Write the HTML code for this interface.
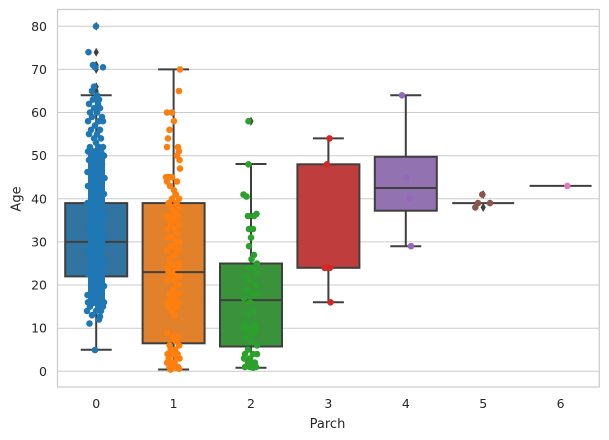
<!DOCTYPE html>
<html><head><meta charset="utf-8"><style>
html,body{margin:0;padding:0;background:#fff;}
svg{display:block;}
text{font-family:"DejaVu Sans","Liberation Sans",sans-serif;fill:#262626;}
.p{fill:none;stroke-width:6.6;stroke-linecap:round;}
</style></head><body>
<svg width="609" height="440" viewBox="0 0 609 440" xmlns="http://www.w3.org/2000/svg">
<rect width="609" height="440" fill="#fff"/>
<path stroke="#cccccc" stroke-width="1" d="M57.5 371.3H599.3M57.5 328.2H599.3M57.5 285.05H599.3M57.5 241.9H599.3M57.5 198.8H599.3M57.5 155.7H599.3M57.5 112.5H599.3M57.5 69.4H599.3M57.5 26.3H599.3"/>
<rect x="57.5" y="9.5" width="541.8" height="377.5" fill="none" stroke="#cccccc" stroke-width="1.25"/>
<g font-size="12.5" text-anchor="end">
<text x="47" y="375.8">0</text>
<text x="47" y="332.7">10</text>
<text x="47" y="289.5">20</text>
<text x="47" y="246.4">30</text>
<text x="47" y="203.3">40</text>
<text x="47" y="160.2">50</text>
<text x="47" y="117">60</text>
<text x="47" y="73.9">70</text>
<text x="47" y="30.8">80</text>
</g>
<g font-size="12.5" text-anchor="middle">
<text x="96.2" y="408">0</text>
<text x="173.6" y="408">1</text>
<text x="251" y="408">2</text>
<text x="328.4" y="408">3</text>
<text x="405.8" y="408">4</text>
<text x="483.2" y="408">5</text>
<text x="560.6" y="408">6</text>
</g>
<text x="327.5" y="428" font-size="13" text-anchor="middle">Parch</text>
<text transform="translate(20.5,199) rotate(-90)" font-size="13" text-anchor="middle">Age</text>

<g stroke="#3f3f3f" stroke-width="2">
<rect x="65.2" y="203.1" width="62" height="73.3" fill="#3274a1"/>
<rect x="142.6" y="203.1" width="62" height="140.2" fill="#e1812c"/>
<rect x="220" y="263.5" width="62" height="83" fill="#3a923a"/>
<rect x="297.4" y="164.3" width="62" height="103.5" fill="#c03d3e"/>
<rect x="374.8" y="156.8" width="62" height="53.9" fill="#9372b2"/>
<path fill="none" d="M96.2 276.4V349.7M96.2 203.1V95.3M80.7 349.7H111.7M80.7 95.3H111.7M65.2 241.9H127.2
M173.6 343.3V369.5M173.6 203.1V69.4M158.1 369.5H189.1M158.1 69.4H189.1M142.6 272.1H204.6
M251 346.5V367.7M251 263.5V164M235.5 367.7H266.5M235.5 164H266.5M220 300.1H282
M328.4 267.8V302.3M328.4 164.3V138.4M312.9 302.3H343.9M312.9 138.4H343.9
M405.8 210.7V246.2M405.8 156.8V95.3M390.3 246.2H421.3M390.3 95.3H421.3M374.8 188H436.8
M452.2 203.1H514.2M529.6 185.9H591.6"/>
</g>
<path fill="#3f3f3f" d="M96.2 21.8l2.6 4.5l-2.6 4.5l-2.6-4.5zM96.2 47.7l2.6 4.5l-2.6 4.5l-2.6-4.5zM96.2 60.6l2.6 4.5l-2.6 4.5l-2.6-4.5zM96.2 62.8l2.6 4.5l-2.6 4.5l-2.6-4.5zM96.2 64.9l2.6 4.5l-2.6 4.5l-2.6-4.5zM96.2 82.2l2.6 4.5l-2.6 4.5l-2.6-4.5zM96.2 86.5l2.6 4.5l-2.6 4.5l-2.6-4.5zM251 116.7l2.6 4.5l-2.6 4.5l-2.6-4.5zM483.2 190l2.6 4.5l-2.6 4.5l-2.6-4.5zM483.2 202.9l2.6 4.5l-2.6 4.5l-2.6-4.5z"/>

<rect x="88" y="150" width="17" height="156" rx="4" fill="#1f77b4"/>
<path class="p" stroke="#1f77b4" d="M96 26.3h0M88.5 52.2h0M93 65.1h0M95 67.3h0M103 67.3h0M94 86.7h0M92 91h0M97 95.3h0M99 99.6h0M93 99.6h0M89 103.9h0M98 103.9h0M94 108.2h0M100 108.2h0M90 112.5h0M97 112.5h0M102 116.9h0M92 116.9h0M88 121.2h0M99 121.2h0M103 121.2h0M95 125.5h0M91 129.8h0M100 129.8h0M89 134.1h0M97 134.1h0M94 138.4h0M101 138.4h0M96 142.7h0M90 147.1h0M99 147.1h0M103 147.1h0M88 151.4h0M94 151.4h0M101 151.4h0M92 155.7h0M104 155.7h0M89 160h0M102 164.3h0M87.5 172h0M104.5 178h0M88 186h0M104 194h0M87.5 203h0M104.5 214h0M88 226h0M104 238h0M87.5 250h0M104.5 262h0M88 274h0M104 286h0M87.5 295h0M88 302.3h0M95 302.3h0M101 302.3h0M104 302.3h0M90 306.6h0M99 306.6h0M103 306.6h0M87 310.9h0M96 310.9h0M101 310.9h0M92 315.2h0M100 316.5h0M99 319.5h0M89.5 323.5h0M95 350h0"/>

<path class="p" stroke="#ff7f0e" d="M180 69.4h0M179 91h0M167 112.5h0M172 112.5h0M174 121.2h0M169.5 129.8h0M168 138.4h0M167 147.1h0M178 147.1h0M179 151.4h0M177 155.7h0M179.5 160h0M180 168.6h0M166 177.2h0M169 177.2h0M172 177.2h0M167 181.5h0M177 181.5h0M170 185.9h0M174 190.2h0M176 194.5h0M172 198.8h0M179 198.8h0M168.6 203.1h0M176.6 203.1h0M179.6 207.4h0M171.6 207.4h0M174.6 211.7h0M167.1 216h0M178.1 216h0M173.1 216h0M175.6 220.4h0M169.6 220.4h0M179.1 224.7h0M170.6 224.7h0M175.1 229h0M167.6 229h0M177.6 233.3h0M172.1 237.6h0M168.6 237.6h0M176.6 241.9h0M179.6 241.9h0M171.6 246.2h0M174.6 246.2h0M167.1 250.5h0M178.1 250.5h0M173.1 254.9h0M175.6 254.9h0M169.6 259.2h0M179.1 263.5h0M170.6 263.5h0M175.1 267.8h0M167.6 267.8h0M177.6 267.8h0M172.1 272.1h0M168.6 272.1h0M176.6 276.4h0M179.6 276.4h0M171.6 276.4h0M174.6 280.7h0M167.1 280.7h0M178.1 285.1h0M173.1 289.4h0M175.6 293.7h0M169.6 293.7h0M179.1 293.7h0M170.6 298h0M175.1 298h0M167.6 302.3h0M177.6 302.3h0M172.1 302.3h0M168.6 306.6h0M176.6 306.6h0M171.6 310.9h0M174.6 315.2h0M167.1 332.5h0M178.1 336.8h0M173.1 336.8h0M175.6 341.1h0M169.6 345.4h0M179.1 345.4h0M170.6 349.7h0M175.1 349.7h0M167.6 354.1h0M177.6 354.1h0M172.1 354.1h0M168.6 358.4h0M176.6 358.4h0M179.6 358.4h0M171.6 362.7h0M174.6 362.7h0M167.1 362.7h0M178.1 367h0M173.1 367h0M169.6 367h0M175.6 367.8h0M179.1 368.7h0M170.6 369.6h0"/>

<path class="p" stroke="#2ca02c" d="M248.5 121.2h0M248.5 164.3h0M243.5 194.5h0M246.5 196.6h0M256.5 213.9h0M254 216h0M248 216h0M253 229h0M249 229h0M251 237.6h0M249 246.2h0M254 254.9h0M251.5 259.2h0M257 263.5h0M248 267.8h0M253 267.8h0M256 272.1h0M246 276.4h0M250 280.7h0M256 285.1h0M247 289.4h0M252 293.7h0M257 293.7h0M244 298h0M250 302.3h0M254 310.9h0M247 315.2h0M255 323.9h0M245 323.9h0M250 328.2h0M256 328.2h0M244 328.2h0M249 332.5h0M254 332.5h0M246 336.8h0M251 341.1h0M257 345.4h0M248 349.7h0M253 354.1h0M245 354.1h0M257 354.1h0M250 358.4h0M244 358.4h0M255 362.7h0M248 362.7h0M252 362.7h0M245 367h0M250 367h0M256 367h0M253 367.7h0"/>

<path class="p" stroke="#d62728" d="M329.5 138.4h0M327 164.3h0M324.5 267.8h0M327.5 267.8h0M330 267.8h0M330.5 302.3h0"/>
<path class="p" stroke="#9467bd" d="M402 95.3h0M406.5 177.3h0M409.5 198.8h0M411 246.2h0"/>
<path class="p" stroke="#8c564b" d="M482.3 194.5h0M478 203.1h0M490 203.1h0M475.3 207.4h0"/>
<path class="p" stroke="#e377c2" d="M567.3 185.9h0"/>
</svg>
</body></html>
